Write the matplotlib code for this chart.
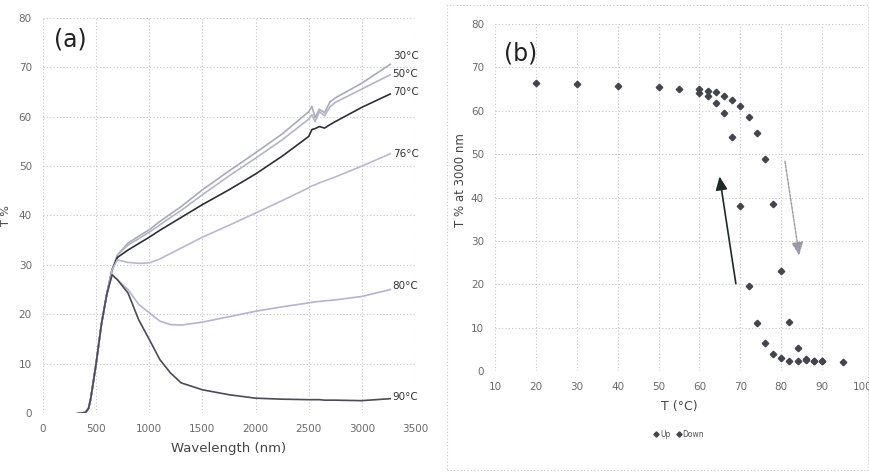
import matplotlib.pyplot as plt
from matplotlib.patches import Rectangle

plt.rcParams['font.family'] = ['Liberation Sans Narrow', 'DejaVu Sans']

# ---- panel (a): transmittance spectra ----
wl = [200, 300, 400, 430, 450, 500, 550, 600, 650, 700, 800, 900, 1000, 1100, 1200,
      1300, 1500, 1750, 2000, 2250, 2500, 2530, 2560, 2600, 2650, 2700, 2750, 3000, 3267]

t30 = [-0.2, -0.2, 0.1, 1.0, 3.0, 10.0, 18.0, 24.0, 29.0, 32.0, 34.4, 35.8, 37.1, 38.8, 40.3,
       41.8, 45.2, 49.0, 52.7, 56.5, 61.0, 62.1, 59.8, 61.5, 60.8, 63.0, 63.8, 66.8, 70.6]
t50 = [-0.2, -0.2, 0.1, 1.0, 3.0, 10.0, 18.0, 24.0, 29.0, 32.0, 34.0, 35.3, 36.6, 38.1, 39.6,
       41.0, 44.2, 48.0, 51.6, 55.3, 59.5, 60.4, 59.0, 61.0, 60.2, 62.0, 62.9, 65.6, 68.5]
t70 = [-0.2, -0.2, 0.1, 1.0, 3.0, 10.0, 18.0, 24.0, 29.0, 31.5, 33.0, 34.3, 35.6, 37.0, 38.3,
       39.6, 42.2, 45.2, 48.4, 52.0, 56.0, 57.4, 57.6, 58.0, 57.7, 58.4, 59.0, 61.9, 64.6]
t76 = [-0.2, -0.2, 0.1, 1.0, 3.0, 10.0, 18.0, 24.0, 29.0, 31.0, 30.5, 30.3, 30.4, 31.2, 32.3,
       33.4, 35.6, 38.0, 40.5, 43.0, 45.6, 46.0, 46.2, 46.6, 47.0, 47.4, 47.8, 50.0, 52.5]
t80 = [-0.2, -0.2, 0.1, 1.0, 3.0, 10.0, 18.0, 24.0, 28.0, 27.0, 25.0, 22.0, 20.3, 18.6, 17.9,
       17.8, 18.4, 19.5, 20.6, 21.5, 22.3, 22.4, 22.5, 22.6, 22.7, 22.8, 22.9, 23.6, 25.0]
t90 = [-0.2, -0.2, 0.1, 1.0, 3.0, 10.0, 18.0, 24.0, 28.0, 27.0, 24.3, 18.9, 14.9, 10.8, 8.1,
       6.1, 4.7, 3.7, 3.0, 2.8, 2.7, 2.7, 2.7, 2.7, 2.6, 2.6, 2.6, 2.5, 2.9]

spectra = [('30°C', t30, '#a9a9bf', 72.3),
           ('50°C', t50, '#b4b4c4', 68.6),
           ('70°C', t70, '#2e2e3a', 65.0),
           ('76°C', t76, '#b8b8d2', 52.5),
           ('80°C', t80, '#b3b3d3', 25.8),
           ('90°C', t90, '#4a4a58', 3.3)]

# ---- panel (b): T at 3000 nm vs temperature ----
temp_up = [20, 30, 40, 50, 55, 60, 62, 64, 66, 68, 70, 72, 74, 76, 78, 80, 82, 84, 86, 88, 90, 95]
tr_up = [66.5, 66.2, 65.8, 65.5, 65.0, 65.0, 64.5, 64.3, 63.5, 62.6, 61.2, 58.5, 54.8, 49.0,
         38.5, 23.0, 11.4, 5.2, 2.8, 2.4, 2.3, 2.0]
temp_down = [90, 88, 86, 84, 82, 80, 78, 76, 74, 72, 70, 68, 66, 64, 62, 60]
tr_down = [2.2, 2.3, 2.5, 2.4, 2.4, 3.1, 3.9, 6.4, 11.1, 19.6, 38.1, 54.0, 59.4, 61.9, 63.3, 64.2]

tick_col = '#6a6a6a'
grid_kw = dict(color='#c8c8c8', linestyle=(0, (1, 2)), linewidth=0.8)

fig = plt.figure(figsize=(8.7, 4.72), dpi=100)

ax = fig.add_axes([0.0494, 0.125, 0.4276, 0.837])
for name, vals, col, ly in spectra:
    ax.plot(wl, vals, color=col, linewidth=1.2)
    ax.text(3290, ly, name, fontsize=7.5, color='#333333', va='center', ha='left')
ax.set_xlim(0, 3500)
ax.set_ylim(0, 80)
ax.set_xticks(range(0, 3501, 500))
ax.set_yticks(range(0, 81, 10))
ax.grid(True, **grid_kw)
for s in ax.spines.values():
    s.set_visible(False)
ax.tick_params(length=0, labelsize=7.5, colors=tick_col, pad=8)
ax.set_xlabel('Wavelength (nm)', fontsize=9.5, color='#444444', labelpad=6)
ax.set_ylabel('T %', fontsize=8, color='#444444')
ax.yaxis.set_label_coords(-0.085, 0.5)
ax.text(0.03, 0.975, '(a)', transform=ax.transAxes, fontsize=17, va='top', ha='left', color='#222222')

bx = fig.add_axes([0.569, 0.214, 0.423, 0.735])
bx.plot(temp_up, tr_up, linestyle='none', marker='D', markersize=3.3, color='#44444f', label='Up')
bx.plot(temp_down, tr_down, linestyle='none', marker='D', markersize=3.3, color='#44444f', label='Down')
bx.annotate('', xy=(64.8, 45.5), xytext=(69, 19.5),
            arrowprops=dict(arrowstyle='-|>,head_length=0.8,head_width=0.35', color='#1f2a26', lw=1.2))
bx.annotate('', xy=(84.5, 26.0), xytext=(80.8, 49.0),
            arrowprops=dict(arrowstyle='-|>,head_length=0.8,head_width=0.35', color='#9a9aa4',
                            lw=1.0, linestyle=(0, (2, 1))))
bx.set_xlim(10, 100)
bx.set_ylim(0, 80)
bx.set_xticks(range(10, 101, 10))
bx.set_yticks(range(0, 81, 10))
bx.grid(True, **grid_kw)
for s in bx.spines.values():
    s.set_visible(False)
bx.tick_params(length=0, labelsize=7.5, colors=tick_col, pad=8)
bx.set_xlabel('T (°C)', fontsize=9, color='#444444', labelpad=6)
bx.set_ylabel('T % at 3000 nm', fontsize=8.5, color='#444444')
bx.yaxis.set_label_coords(-0.075, 0.55)
bx.text(0.025, 0.95, '(b)', transform=bx.transAxes, fontsize=17, va='top', ha='left', color='#222222')
bx.legend(loc='upper center', bbox_to_anchor=(0.5, -0.15), ncol=2, frameon=False,
          fontsize=5.5, markerscale=0.8, handlelength=0.6, handletextpad=0.2, columnspacing=0.8,
          labelcolor='#555555')

# dotted frame around panel (b)
fig.patches.append(Rectangle((447 / 870, 2 / 472), 421 / 870, 465 / 472, transform=fig.transFigure,
                             fill=False, edgecolor='#c8c8c8', linestyle=(0, (1, 2)), linewidth=0.8))

fig.savefig('out.png', dpi=100, facecolor='white')
